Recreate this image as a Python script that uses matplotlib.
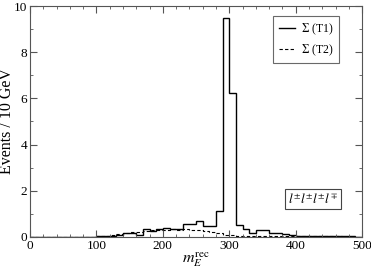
import numpy as np
import matplotlib
matplotlib.use("Agg")
import matplotlib.pyplot as plt
from matplotlib.ticker import MultipleLocator

plt.rcParams['font.family'] = ['Liberation Serif', 'DejaVu Serif']
plt.rcParams['mathtext.fontset'] = 'stix'

# 10 GeV bins from 0 to 500
edges = np.arange(0, 510, 10)

t1 = [0.02, 0.02, 0.02, 0.02, 0.02, 0.02, 0.02, 0.02, 0.02, 0.02,
      0.03, 0.06, 0.06, 0.10, 0.15, 0.15, 0.08, 0.33, 0.25, 0.33,
      0.38, 0.33, 0.35, 0.55, 0.55, 0.70, 0.48, 0.48, 1.12, 9.50,
      6.22, 0.53, 0.35, 0.15, 0.28, 0.28, 0.15, 0.18, 0.12, 0.08,
      0.06, 0.06, 0.05, 0.05, 0.06, 0.05, 0.04, 0.03, 0.03, 0.02]

t2 = [0.01, 0.01, 0.01, 0.01, 0.01, 0.01, 0.01, 0.01, 0.01, 0.02,
      0.03, 0.05, 0.08, 0.12, 0.17, 0.20, 0.22, 0.25, 0.30, 0.32,
      0.30, 0.33, 0.30, 0.35, 0.30, 0.28, 0.25, 0.20, 0.15, 0.10,
      0.08, 0.06, 0.05, 0.05, 0.05, 0.05, 0.04, 0.04, 0.04, 0.04,
      0.04, 0.04, 0.04, 0.03, 0.03, 0.03, 0.03, 0.02, 0.02, 0.02]

fig = plt.figure(figsize=(3.71, 2.73), dpi=100)
ax = fig.add_axes([0.081, 0.132, 0.895, 0.846])

ax.stairs(t1, edges, color='k', lw=1.0, label=r'$\Sigma$ (T1)')
ax.stairs(t2, edges, color='k', lw=0.8, ls=(0, (3, 2)), label=r'$\Sigma$ (T2)')

ax.set_xlim(0, 500)
ax.set_ylim(0, 10)
ax.xaxis.set_major_locator(MultipleLocator(100))
ax.xaxis.set_minor_locator(MultipleLocator(20))
ax.yaxis.set_major_locator(MultipleLocator(2))
ax.yaxis.set_minor_locator(MultipleLocator(1))
ax.tick_params(which='both', direction='in', top=True, right=True, labelsize=9.5,
               color='#555555', pad=2)
ax.tick_params(which='major', length=5)
ax.tick_params(which='minor', length=2.5)
for s in ax.spines.values():
    s.set_color('#555555')

ax.set_ylabel('Events / 10 GeV', fontsize=11.5)
ax.yaxis.set_label_coords(-0.045, 0.5)
ax.set_xlabel(r'$m_E^{\rm rec}$', fontsize=11.5, labelpad=-1)

leg = ax.legend(loc='upper right', bbox_to_anchor=(0.93, 0.955), fontsize=8.5,
                frameon=True, fancybox=False, edgecolor='#444444', handlelength=1.4,
                handletextpad=0.5, borderpad=0.45, labelspacing=0.45, borderaxespad=0)
leg.get_frame().set_linewidth(0.8)

ax.text(0.928, 0.165, r'$l^{\pm}l^{\pm}l^{\pm}l^{\mp}$', transform=ax.transAxes,
        ha='right', va='center', fontsize=9.5,
        bbox=dict(boxstyle='square,pad=0.25', fc='white', ec='#444444', lw=0.8))

fig.savefig('out.png', dpi=100)
